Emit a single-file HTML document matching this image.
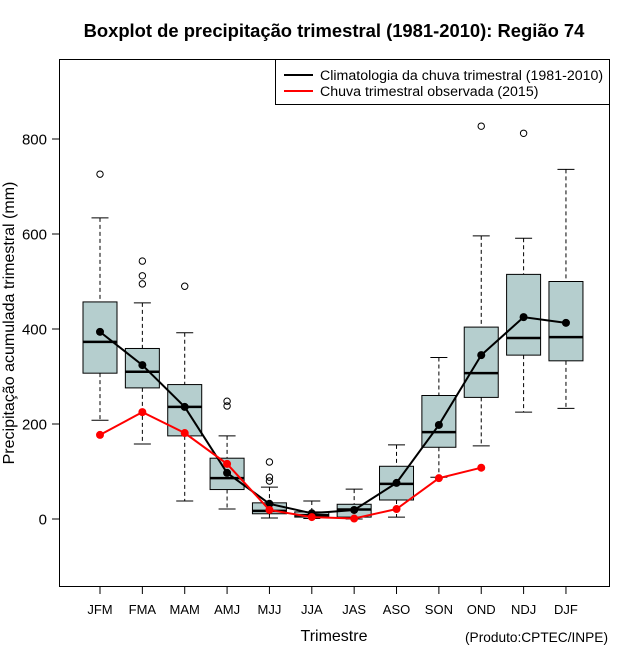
<!DOCTYPE html>
<html><head><meta charset="utf-8"><style>
body{margin:0;background:#fff}
svg{display:block;font-family:"Liberation Sans",Arial,sans-serif}
</style></head><body>
<svg id="chart" width="640" height="660" viewBox="0 0 640 660">
<text x="334" y="37" text-anchor="middle" font-size="18.4" font-weight="bold">Boxplot de precipitação trimestral (1981-2010): Região 74</text>
<rect x="59.5" y="59.5" width="550" height="527" fill="none" stroke="#000"/>
<g id="yaxis"></g>
<g id="xaxis"></g>
<g id="boxes"></g>
<g id="lines"></g>
<text transform="translate(14,323) rotate(-90)" text-anchor="middle" font-size="16">Precipitação acumulada trimestral (mm)</text>
<text x="334" y="641" text-anchor="middle" font-size="16">Trimestre</text>
<text x="608" y="642" text-anchor="end" font-size="13.7">(Produto:CPTEC/INPE)</text>
<g>
<rect x="275.5" y="59.5" width="334" height="45" fill="#fff" stroke="#000"/>
<line x1="284" y1="75" x2="313" y2="75" stroke="#000" stroke-width="2"/>
<text x="320" y="80" font-size="14.2">Climatologia da chuva trimestral (1981-2010)</text>
<line x1="284" y1="91" x2="313" y2="91" stroke="#f00" stroke-width="2"/>
<text x="320" y="96" font-size="14.2">Chuva trimestral observada (2015)</text>
</g>
</svg>
<script>
const categories=["JFM","FMA","MAM","AMJ","MJJ","JJA","JAS","ASO","SON","OND","NDJ","DJF"];
const whiskerLow=[208,158,38,21,2,1,0,4,88,154,225,233];
const q1=[307,276,175,62,11,4,4,40,151,256,345,333];
const median=[373,310,236,86,17,8,20,74,183,307,381,383];
const q3=[457,359,283,128,34,15,31,111,260,404,515,500];
const whiskerHigh=[634,455,392,175,67,38,63,156,340,596,591,736];
const outliers=[[726],[543,512,495],[490],[248,238],[120,88,80],[],[],[],[],[827],[812],[]];
const climatology=[394,324,236,97,32,12,19,76,198,345,425,413];
const observed=[177,225,181,116,19,4,1,21,86,108];
const yTicks=[0,200,400,600,800];

const NS="http://www.w3.org/2000/svg";
function y(v){return 519-v*95/200;}
function x(i){return 100+i*42.36;}
function mk(parent,tag,attrs){const e=document.createElementNS(NS,tag);for(const k in attrs)e.setAttribute(k,attrs[k]);parent.appendChild(e);return e;}
const ya=document.getElementById('yaxis'),xa=document.getElementById('xaxis'),bx=document.getElementById('boxes'),ln=document.getElementById('lines');
yTicks.forEach(t=>{
  const l=mk(ya,'line',{x1:52,x2:59.5,y1:y(t),y2:y(t),stroke:'#000'});
  
  
  const tx=mk(ya,'text',{x:47,y:y(t)+5.5,'text-anchor':'end','font-size':15});
  
  
  tx.textContent=t;
});
categories.forEach((c,i)=>{
  const cx=x(i);
  const l=mk(xa,'line',{x1:cx,x2:cx,y1:586.5,y2:594,stroke:'#000'});
  
  
  const tx=mk(xa,'text',{x:cx,y:614,'text-anchor':'middle','font-size':13});
  
  
  tx.textContent=c;
  const g=mk(bx,'g',{});
  
  
  mk(g,'line',{x1:cx,x2:cx,y1:y(whiskerHigh[i]),y2:y(q3[i]),stroke:'#000','stroke-dasharray':'4,3'});
  mk(g,'line',{x1:cx,x2:cx,y1:y(q1[i]),y2:y(whiskerLow[i]),stroke:'#000','stroke-dasharray':'4,3'});
  mk(g,'line',{x1:cx-8.5,x2:cx+8.5,y1:y(whiskerHigh[i]),y2:y(whiskerHigh[i]),stroke:'#000'});
  mk(g,'line',{x1:cx-8.5,x2:cx+8.5,y1:y(whiskerLow[i]),y2:y(whiskerLow[i]),stroke:'#000'});
  mk(g,'rect',{x:cx-17,y:y(q3[i]),width:34,height:y(q1[i])-y(q3[i]),fill:'#b5cece',stroke:'#000'});
  mk(g,'line',{x1:cx-17,x2:cx+17,y1:y(median[i]),y2:y(median[i]),stroke:'#000','stroke-width':2.5});
  outliers[i].forEach(o=>{
    const c2=mk(g,'circle',{cx:cx,cy:y(o),r:3.2,fill:'none',stroke:'#000'});
    
    
  });
});
function series(arr,color,name){
  const p=mk(ln,'polyline',{points:arr.map((v,i)=>x(i)+','+y(v)).join(' '),fill:'none',stroke:color,'stroke-width':2});
  
  
  arr.forEach((v,i)=>{
    const c=mk(ln,'circle',{cx:x(i),cy:y(v),r:4,fill:color});
    
    
  });
}
series(climatology,'#000','climatology');
series(observed,'#f00','observed');
</script>
</body></html>
